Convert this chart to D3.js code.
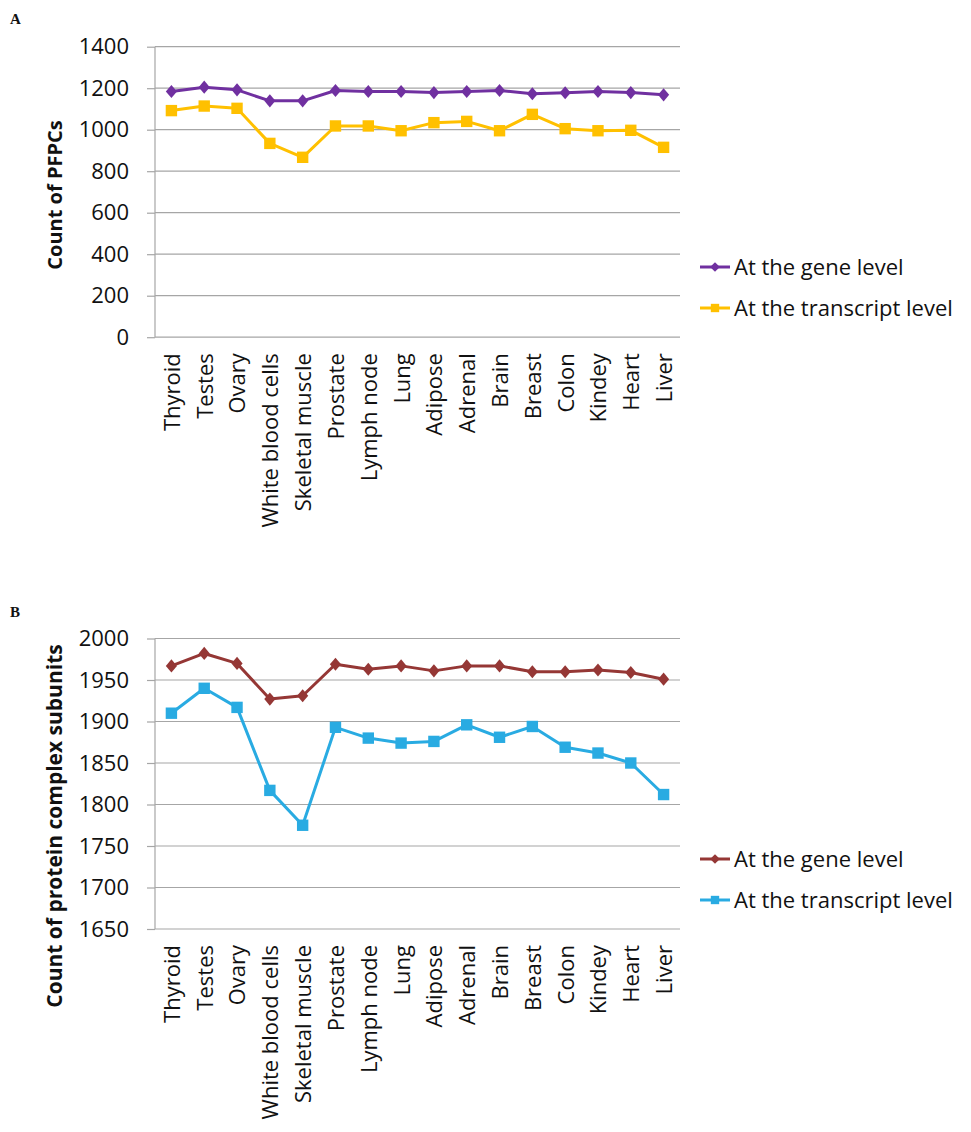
<!DOCTYPE html>
<html>
<head>
<meta charset="utf-8">
<script src="https://cdn.jsdelivr.net/npm/d3@7"></script>
<style>
  html, body { margin: 0; padding: 0; background: #ffffff; }
  svg { display: block; }
</style>
</head>
<body>
<svg id="chart" width="971" height="1132"></svg>
<script>
// ---- data ----
const categories = ["Thyroid", "Testes", "Ovary", "White blood cells", "Skeletal muscle", "Prostate",
  "Lymph node", "Lung", "Adipose", "Adrenal", "Brain", "Breast", "Colon", "Kindey", "Heart", "Liver"];

const pfpcGene = [1184, 1205, 1192, 1139, 1139, 1189, 1184, 1184, 1179, 1184, 1189, 1173, 1178, 1184, 1179, 1168];
const pfpcTranscript = [1092, 1114, 1103, 934, 867, 1018, 1018, 995, 1034, 1040, 995, 1074, 1005, 995, 997, 915];

const subunitGene = [1967, 1982, 1970, 1927, 1931, 1969, 1963, 1967, 1961, 1967, 1967, 1960, 1960, 1962, 1959, 1951];
const subunitTranscript = [1910, 1940, 1917, 1817, 1775, 1893, 1880, 1874, 1876, 1896, 1881, 1894, 1869, 1862, 1850, 1812];

const ticksA = [0, 200, 400, 600, 800, 1000, 1200, 1400];
const ticksB = [1650, 1700, 1750, 1800, 1850, 1900, 1950, 2000];

const legendLabels = ["At the gene level", "At the transcript level"];

// ---- drawing ----
const svg = d3.select("#chart");
const FONT = "'Open Sans', 'DejaVu Sans', sans-serif";

function panel(cfg) {
  const g = svg.append("g");
  const x = d3.scalePoint().domain(categories).range([cfg.left, cfg.right]).padding(0.5);
  const y = d3.scaleLinear().domain(cfg.domain).range([cfg.bottom, cfg.top]);

  // panel letter
  g.append("text").attr("x", 10).attr("y", cfg.letterY)
    .attr("font-family", "'Liberation Serif', 'DejaVu Serif', serif")
    .attr("font-weight", "bold").attr("font-size", 15).attr("fill", "#111")
    .text(cfg.letter);

  // gridlines + y ticks
  const yAxis = d3.axisLeft(y).tickValues(cfg.ticks).tickSize(8).tickPadding(18)
    .tickFormat(d3.format("d"));
  const ya = g.append("g").attr("transform", `translate(${cfg.left},0)`).call(yAxis);
  ya.select(".domain").remove();
  ya.selectAll(".tick line").attr("stroke", "#a6a6a6").attr("stroke-width", 1.2)
    .attr("x1", 0).attr("x2", -8);
  ya.selectAll(".tick text").attr("font-family", FONT).attr("font-size", 22).attr("fill", "#111");

  g.append("g").selectAll("line").data(cfg.ticks).join("line")
    .attr("x1", cfg.left).attr("x2", cfg.right)
    .attr("y1", d => y(d)).attr("y2", d => y(d))
    .attr("stroke", "#a6a6a6").attr("stroke-width", 1.2);

  // vertical axis line
  g.append("line").attr("x1", cfg.left).attr("x2", cfg.left)
    .attr("y1", cfg.top).attr("y2", cfg.bottom)
    .attr("stroke", "#a6a6a6").attr("stroke-width", 1.2);

  // x-axis labels (rotated)
  const xAxis = d3.axisBottom(x).tickSize(0).tickPadding(0);
  const xa = g.append("g").attr("transform", `translate(0,${cfg.bottom})`).call(xAxis);
  xa.select(".domain").remove();
  xa.selectAll(".tick text")
    .attr("font-family", FONT).attr("font-size", 22).attr("fill", "#111")
    .attr("transform", "rotate(-90)")
    .attr("text-anchor", "end")
    .attr("x", -16).attr("y", 0).attr("dy", "0.36em");

  // y-axis title
  g.append("text")
    .attr("transform", `translate(${cfg.titleX},${cfg.titleY}) rotate(-90)`)
    .attr("text-anchor", "middle")
    .attr("font-family", FONT).attr("font-weight", "bold").attr("font-size", cfg.titleSize).attr("fill", "#111")
    .text(cfg.title);

  // series
  const line = d3.line().x((d, i) => x(categories[i])).y(d => y(d));
  const series = [
    { values: cfg.gene, color: cfg.geneColor, marker: "diamond" },
    { values: cfg.transcript, color: cfg.transColor, marker: "square" }
  ];
  series.forEach(s => {
    g.append("path").datum(s.values).attr("d", line)
      .attr("fill", "none").attr("stroke", s.color).attr("stroke-width", 3)
      .attr("stroke-linejoin", "round");
    const sym = s.marker === "diamond"
      ? d3.symbol().type(d3.symbolDiamond2).size(110)
      : d3.symbol().type(d3.symbolSquare).size(130);
    g.append("g").selectAll("path").data(s.values).join("path")
      .attr("d", sym)
      .attr("transform", (d, i) => s.marker === "diamond"
        ? `translate(${x(categories[i])},${y(d)}) scale(0.85,1)`
        : `translate(${x(categories[i])},${y(d)})`)
      .attr("fill", s.color);
  });

  // legend
  const lg = g.append("g");
  series.forEach((s, i) => {
    const ly = cfg.legendY + i * 41;
    lg.append("line").attr("x1", 700).attr("x2", 730).attr("y1", ly).attr("y2", ly)
      .attr("stroke", s.color).attr("stroke-width", 3);
    const sym = s.marker === "diamond"
      ? d3.symbol().type(d3.symbolDiamond2).size(60)
      : d3.symbol().type(d3.symbolSquare).size(70);
    lg.append("path").attr("d", sym).attr("transform", `translate(715,${ly})`).attr("fill", s.color);
    lg.append("text").attr("x", 734).attr("y", ly).attr("dy", "0.36em")
      .attr("font-family", FONT).attr("font-size", 22).attr("fill", "#111")
      .text(legendLabels[i]);
  });
}

panel({
  letter: "A", letterY: 24,
  left: 155, right: 680, top: 46.7, bottom: 337.2,
  domain: [0, 1400], ticks: ticksA,
  gene: pfpcGene, transcript: pfpcTranscript,
  geneColor: "#7030a0", transColor: "#ffc000",
  title: "Count of PFPCs", titleX: 62, titleY: 195, titleSize: 20,
  legendY: 267
});

panel({
  letter: "B", letterY: 617,
  left: 155, right: 680, top: 638.5, bottom: 929,
  domain: [1650, 2000], ticks: ticksB,
  gene: subunitGene, transcript: subunitTranscript,
  geneColor: "#953735", transColor: "#29abe2",
  title: "Count of protein complex subunits", titleX: 62, titleY: 826, titleSize: 21,
  legendY: 859
});
</script>
</body>
</html>
